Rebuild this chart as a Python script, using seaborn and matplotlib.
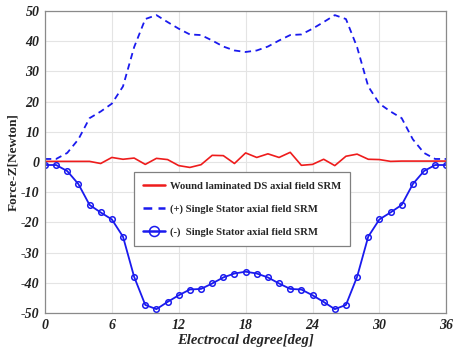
import numpy as np
import pandas as pd
import matplotlib
matplotlib.use("Agg")
import matplotlib.pyplot as plt
import seaborn as sns

degrees = list(range(0, 37))
wound_ds = [0.2, 0.2, 0.2, 0.2, 0.2, -0.5, 1.5, 0.9, 1.3, -0.8, 1.2, 0.8, -1.2,
            -1.8, -0.9, 2.2, 2.1, -0.5, 3.0, 1.5, 2.7, 1.5, 3.2, -1.1, -0.8,
            0.9, -1.2, 1.9, 2.6, 0.9, 0.8, 0.2, 0.3, 0.3, 0.3, 0.3, 0.3]
single_pos = [1.0, 1.0, 3.0, 7.5, 14.5, 16.7, 19.3, 25.0, 38.0, 47.3, 48.6,
              46.3, 44.1, 42.2, 42.0, 40.2, 38.2, 36.9, 36.4, 36.9, 38.2, 40.2,
              42.0, 42.2, 44.1, 46.3, 48.6, 47.3, 38.0, 25.0, 19.3, 16.7, 14.5,
              7.5, 3.0, 1.0, 1.0]
single_neg = [-1.0, -1.0, -3.0, -7.3, -14.2, -16.7, -19.0, -24.7, -38.0, -47.3,
              -48.7, -46.3, -44.1, -42.2, -42.0, -40.2, -38.2, -36.9, -36.3,
              -36.9, -38.2, -40.2, -42.0, -42.2, -44.1, -46.3, -48.7, -47.3,
              -38.0, -24.7, -19.0, -16.7, -14.2, -7.3, -3.0, -1.0, -1.0]
x_ticks = [0, 6, 12, 18, 24, 30, 36]
y_ticks = [-50, -40, -30, -20, -10, 0, 10, 20, 30, 40, 50]

labels = ["Wound laminated DS axial field SRM",
          "(+) Single Stator axial field SRM",
          "(-)  Single Stator axial field SRM"]

df = pd.DataFrame({"deg": degrees, "wound": wound_ds,
                   "pos": single_pos, "neg": single_neg})

sns.set_style("white")
plt.rcParams['font.family'] = ['Liberation Serif', 'DejaVu Serif']
plt.rcParams['axes.unicode_minus'] = False

fig = plt.figure(figsize=(4.54, 3.51), dpi=100)
ax = fig.add_axes([0.099, 0.108, 0.884, 0.861])

sns.lineplot(data=df, x="deg", y="wound", ax=ax, color="#ee1c1c", lw=1.2,
             label=labels[0])
sns.lineplot(data=df, x="deg", y="pos", ax=ax, color="#1a1aee", lw=1.3,
             dashes=False, label=labels[1])
ax.lines[-1].set_linestyle((0, (3.5, 2.5)))
sns.lineplot(data=df, x="deg", y="neg", ax=ax, color="#1a1aee", lw=1.3,
             marker="o", markersize=4, markerfacecolor="none",
             markeredgecolor="#1a1aee", markeredgewidth=1.1, label=labels[2])

ax.set_xlim(0, 36)
ax.set_ylim(-50, 50)
ax.set_xticks(x_ticks)
ax.set_yticks(y_ticks)
ax.grid(True, color="#e4e4e4", lw=0.8)
for s in ax.spines.values():
    s.set_color("#8a8a8a")
    s.set_linewidth(0.9)
ax.tick_params(axis="both", length=0, pad=4)
for t in ax.get_xticklabels() + ax.get_yticklabels():
    t.set_fontweight("bold")
    t.set_fontstyle("italic")
    t.set_fontsize(10)
    t.set_color("#222222")
ax.set_xlabel("Electrocal degree[deg]", fontsize=10.5, fontweight="bold",
              fontstyle="italic", labelpad=2)
ax.set_ylabel("Force-Z[Newton]", fontsize=9.5, fontweight="bold", labelpad=1)

leg = ax.legend(loc="upper left", bbox_to_anchor=(0.222, 0.467),
                prop={"weight": "bold", "size": 7.7}, frameon=True,
                fancybox=False, edgecolor="#808080", framealpha=1,
                handlelength=2.0, handletextpad=0.5,
                labelspacing=1.25, borderpad=0.85, markerscale=1.8,
                borderaxespad=0)
leg.get_frame().set_linewidth(0.9)
for h in leg.get_lines():
    h.set_linewidth(1.8)

fig.savefig("out.png", dpi=100)
